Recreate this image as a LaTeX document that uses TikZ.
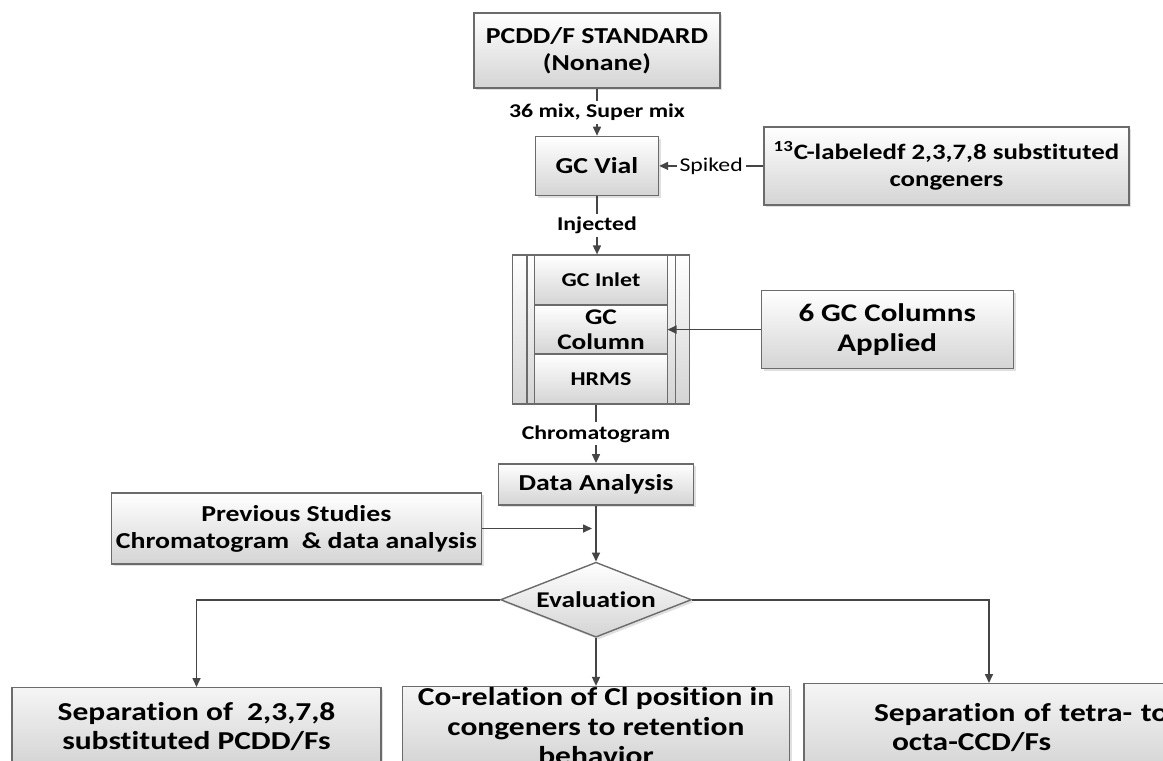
\documentclass[tikz,border=0pt]{standalone}
\usepackage{fontspec}
\setmainfont{Carlito}[FakeStretch=1.22, Ligatures=NoCommon]
\usetikzlibrary{positioning, arrows.meta, shapes.geometric, fit, backgrounds, shadows}

\definecolor{boxline}{HTML}{6B6B6B}
\definecolor{boxshade}{HTML}{D4D4D4}
\definecolor{linegray}{HTML}{454545}

\begin{document}
\begin{tikzpicture}[
  x=0.5pt, y=-0.5pt,
  % ---- Style definitions ----
  box/.style={
    draw=boxline, line width=0.7pt, top color=white, bottom color=boxshade,
    align=center, inner sep=2pt, font=\bfseries\fontsize{11.4}{13.5}\selectfont,
    drop shadow={shadow xshift=1.2pt, shadow yshift=-1.2pt, fill=black!35, opacity=0.35}
  },
  cell/.style={
    draw=boxline, line width=0.7pt, top color=white, bottom color=boxshade,
    align=center, inner sep=1pt, outer sep=0pt, minimum width=66.5pt,
    font=\bfseries\fontsize{9.8}{11.5}\selectfont
  },
  frame/.style={
    draw=boxline, line width=0.7pt, top color=white, bottom color=boxshade,
    inner xsep=11pt, inner ysep=0pt
  },
  decision/.style={
    draw=boxline, line width=0.7pt, diamond, aspect=2.55, top color=white, bottom color=boxshade,
    inner sep=0pt, minimum width=95.5pt, minimum height=37.5pt,
    font=\bfseries\fontsize{11.25}{13}\selectfont,
    drop shadow={shadow xshift=1.2pt, shadow yshift=-1.2pt, fill=black!35, opacity=0.35}
  },
  result/.style={
    box, top color=black!4, bottom color=boxshade,
    font=\bfseries\fontsize{12.9}{14.75}\selectfont
  },
  arr/.style={
    -{Triangle[length=4.5pt, width=4pt]}, line width=0.8pt, draw=linegray
  },
  lbl/.style={
    fill=white, inner sep=1.5pt, font=\bfseries\fontsize{9.75}{11}\selectfont
  },
]
\useasboundingbox (0,0) rectangle (1163,761);
\clip (0,0) rectangle (1163,761);

% ---- Sample preparation ----
\node[box, minimum width=123pt, minimum height=37.5pt] (std) at (597,50.5) {PCDD/F STANDARD\\(Nonane)};
\node[box, minimum width=61.5pt, minimum height=29.5pt, below=23.5pt of std] (vial) {GC Vial};
\node[box, minimum width=182.5pt, minimum height=39pt, right=52pt of vial,
      font=\bfseries\fontsize{11}{13.3}\selectfont] (spike) {\textsuperscript{13}C-labeledf 2,3,7,8 substituted\\congeners};

% ---- GC-HRMS stack ----
\node[cell, minimum height=25pt, below=29.5pt of vial, xshift=2pt] (inlet) {GC Inlet};
\node[cell, minimum height=24.5pt, below=0pt of inlet,
      font=\bfseries\fontsize{11.2}{12.8}\selectfont] (column) {GC\\Column};
\node[cell, minimum height=25pt, below=0pt of column] (hrms) {HRMS};
\begin{scope}[on background layer]
  \node[frame, fit=(inlet)(hrms)] (stack) {};
\end{scope}
\draw[boxline, line width=0.7pt]
  ([xshift=7.5pt]stack.north west) -- ([xshift=7.5pt]stack.south west)
  ([xshift=-7.5pt]stack.north east) -- ([xshift=-7.5pt]stack.south east);
\node[box, minimum width=126pt, minimum height=39pt, right=46.5pt of column,
      font=\bfseries\fontsize{12.7}{15.3}\selectfont] (ncol) {6 GC Columns\\Applied};

% ---- Analysis and evaluation ----
\node[box, minimum width=97.5pt, minimum height=20.5pt, below=29.5pt of hrms, xshift=-2.5pt] (da) {Data Analysis};
\node[decision, below=28pt of da] (eval) {Evaluation};
\node[box, minimum width=185pt, minimum height=35.5pt, anchor=east] (prev) at (482,528.5)
  {Previous Studies\\Chromatogram\ \ \& data analysis};

% ---- Outcomes ----
\node[result, minimum width=184.5pt, minimum height=39pt, anchor=north] (sep) at (196.5,687)
  {Separation of\ \ 2,3,7,8\\substituted PCDD/Fs};
\node[result, minimum width=193.5pt, minimum height=39.5pt, inner ysep=0pt, below=24pt of eval] (corr)
  {Co-relation of Cl position in\\congeners to retention\\behavior};
\node[result, text width=181pt, minimum height=44pt, align=left, anchor=north] (tetra) at (989,683)
  {\hspace*{33pt}Separation of tetra- to\\\hspace*{42pt}octa-CCD/Fs};

% ---- Connectors ----
\draw[arr] (std.south) -- node[lbl] {36 mix, Super mix} (vial.north);
\draw[arr] (spike.west) -- node[lbl, font=\fontsize{9.75}{11}\selectfont] {Spiked} (vial.east);
\draw[arr] (vial.south) -- node[lbl] {Injected} (vial.south |- stack.north);
\draw[arr] (ncol.west) -- (column.east);
\draw[arr] (da.north |- stack.south) -- node[lbl] {Chromatogram} (da.north);
\draw[arr] (da.south) -- (eval.north);
\draw[arr, shorten >=2pt] (prev.east) -- (prev.east -| da.south);
\draw[arr] (eval.west) -| (sep.north);
\draw[arr] (eval.south) -- (corr.north);
\draw[arr] (eval.east) -| (tetra.north);

\end{tikzpicture}
\end{document}
